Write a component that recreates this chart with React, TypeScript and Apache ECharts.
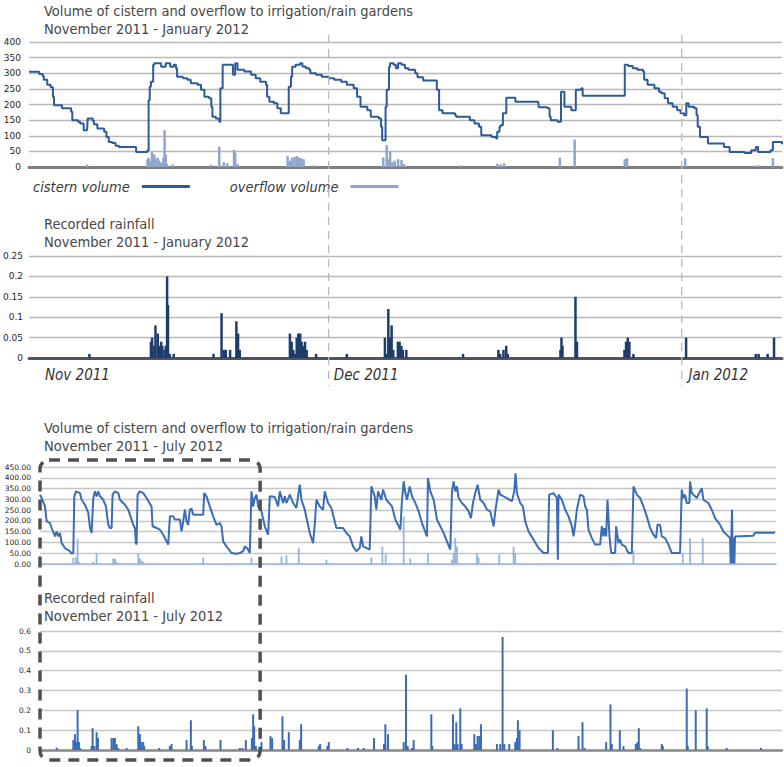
import { useEffect, useRef } from 'react';
import * as echarts from 'echarts';

// x values are days counted from 1 Nov 2011 (Dec 1 = 30, Jan 1 = 61)
const DAY_DEC = 30;
const DAY_JAN = 61;

// Nov 2011 - Jan 2012
const cisternNovJan = [
  [3.7, 305], [4.4, 305], [4.6, 298], [4.9, 291], [5.0, 279], [5.3, 263], [5.6, 255], [5.8, 225], [5.9, 198], [6.5, 198],
  [6.6, 188], [7.1, 188], [7.4, 177], [7.5, 150], [8.0, 145], [8.2, 139], [8.5, 118], [8.8, 118], [8.85, 155], [9.1, 155],
  [9.3, 148], [9.4, 137], [9.7, 123], [10.1, 123], [10.3, 113], [10.5, 96], [10.7, 80], [11.0, 77], [11.3, 68], [11.6, 64],
  [12.9, 64], [13.1, 48], [13.5, 48], [14.1, 54], [14.2, 214], [14.3, 257], [14.4, 273], [14.6, 327], [14.7, 332], [15.3, 321],
  [15.7, 332], [16.1, 321], [16.4, 327], [16.6, 316], [16.7, 289], [17.2, 284], [17.6, 279], [17.9, 268], [18.5, 263], [18.8, 247],
  [19.1, 225], [19.5, 220], [19.7, 193], [19.8, 161], [20.1, 155], [20.4, 145], [20.5, 252], [20.7, 327], [21.4, 327], [21.6, 295],
  [21.7, 295], [21.8, 332], [21.9, 332], [22.0, 311], [22.6, 306], [23.2, 295], [23.6, 284], [24.0, 273], [24.5, 263], [24.6, 225],
  [24.8, 209], [25.2, 204], [25.5, 188], [25.8, 172], [26.4, 172], [26.5, 257], [26.7, 289], [26.8, 321], [27.1, 327], [27.5, 332],
  [27.7, 322], [28.0, 316], [28.3, 311], [28.4, 300], [28.9, 295], [29.4, 289], [30.0, 284], [30.5, 279], [31.1, 273], [31.6, 263],
  [32.2, 252], [32.5, 225], [32.8, 193], [33.2, 193], [33.4, 182], [33.7, 161], [34.1, 161], [34.4, 155], [34.6, 129], [34.7, 86],
  [34.9, 86], [35.0, 193], [35.1, 247], [35.3, 321], [35.4, 332], [35.7, 327], [35.9, 316], [36.1, 332], [36.4, 327], [36.7, 316],
  [37.0, 311], [37.6, 300], [37.8, 287], [38.3, 277], [39.3, 277], [39.5, 247], [39.7, 182], [40.0, 172], [41.1, 166], [41.2, 161],
  [42.2, 161], [42.4, 150], [42.8, 139], [43.2, 129], [43.4, 102], [44.1, 102], [44.3, 96], [44.7, 91], [44.8, 113], [45.0, 129],
  [45.1, 134], [45.3, 172], [45.6, 222], [46.3, 222], [46.4, 209], [48.4, 209], [48.45, 191], [49.2, 188], [49.4, 161], [49.5, 150],
  [50.1, 145], [50.4, 241], [50.6, 241], [50.7, 193], [51.1, 193], [51.3, 182], [51.6, 182], [51.7, 247], [52.2, 252], [52.3, 228],
  [55.8, 228], [56.0, 327], [56.3, 323], [56.7, 316], [57.1, 311], [57.6, 306], [57.7, 279], [58.0, 263], [58.6, 252], [59.0, 241],
  [59.2, 236], [59.5, 220], [59.8, 204], [60.2, 193], [60.6, 182], [60.9, 172], [61.2, 166], [61.4, 204], [61.6, 193], [62.1, 188],
  [62.3, 166], [62.4, 129], [62.6, 96], [63.3, 75], [64.4, 75], [64.7, 64], [65.2, 48], [66.5, 45], [67.1, 54], [67.5, 64],
  [67.7, 48], [68.7, 48], [68.8, 54], [69.0, 80], [69.6, 80], [69.8, 73],
];

const overflowNovJan = [
  [8.8, 8], [14.1, 25], [14.2, 30], [14.4, 20], [14.5, 48], [14.7, 40], [14.8, 25], [15.0, 30], [15.1, 20], [15.3, 15],
  [15.5, 30], [15.6, 118], [15.7, 40], [15.8, 10], [16.3, 8], [19.7, 7], [20.4, 65], [20.8, 15], [21.1, 12], [21.7, 55],
  [21.8, 45], [22.0, 10], [26.4, 35], [26.6, 20], [26.8, 30], [27.0, 32], [27.2, 35], [27.4, 30], [27.6, 28], [27.8, 25],
  [28.7, 5], [34.8, 30], [35.1, 70], [35.2, 25], [35.4, 50], [35.6, 15], [35.8, 20], [36.1, 25], [36.4, 22], [36.6, 10],
  [41.6, 5], [44.8, 10], [45.1, 8], [45.4, 12], [50.3, 30], [51.6, 88], [56.0, 25], [56.2, 28], [61.3, 28], [67.5, 5],
  [67.8, 5], [69.0, 28],
];

const rainNovJan = [
  [9.0, 0.01], [14.4, 0.04], [14.5, 0.05], [14.7, 0.03], [14.8, 0.08], [15.0, 0.06], [15.1, 0.03], [15.3, 0.04], [15.4, 0.03], [15.6, 0.02],
  [15.7, 0.03], [15.82, 0.2], [15.9, 0.13], [16.05, 0.01], [16.4, 0.01], [19.9, 0.01], [20.6, 0.11], [20.8, 0.02], [20.97, 0.02], [21.35, 0.02],
  [21.9, 0.09], [22.05, 0.06], [22.2, 0.02], [26.6, 0.06], [26.76, 0.04], [26.9, 0.02], [27.05, 0.01], [27.2, 0.05], [27.34, 0.06], [27.5, 0.06],
  [27.63, 0.04], [27.78, 0.03], [27.93, 0.04], [28.07, 0.02], [28.9, 0.01], [31.6, 0.01], [34.94, 0.05], [35.09, 0.01], [35.24, 0.12], [35.38, 0.05],
  [35.53, 0.08], [35.67, 0.02], [36.08, 0.04], [36.23, 0.04], [36.38, 0.03], [36.52, 0.02], [36.82, 0.02], [41.8, 0.01], [44.9, 0.02], [45.06, 0.01],
  [45.35, 0.02], [45.59, 0.03], [45.73, 0.01], [50.35, 0.02], [50.44, 0.05], [50.53, 0.03], [51.67, 0.15], [51.8, 0.04], [55.97, 0.02], [56.11, 0.04],
  [56.26, 0.05], [56.4, 0.04], [56.76, 0.01], [61.38, 0.05], [67.5, 0.01], [67.75, 0.01], [68.54, 0.01], [69.1, 0.05],
];

// Nov 2011 - Jul 2012
const cisternNovJul = [
  [3.7, 322], [4.2, 306], [5.2, 267], [5.7, 198], [6.7, 190], [7.2, 167], [8.2, 128], [8.7, 151], [9.2, 128], [9.7, 144],
  [10.2, 97], [11.2, 74], [12.7, 59], [13.2, 48], [13.7, 51], [14.0, 314], [14.5, 337], [15.7, 329], [16.2, 298], [17.2, 275],
  [18.2, 237], [18.7, 167], [19.2, 144], [19.7, 306], [20.2, 337], [20.7, 314], [21.2, 337], [21.7, 314], [22.7, 298], [23.5, 267],
  [24.2, 182], [24.7, 167], [25.2, 167], [25.5, 322], [26.2, 337], [27.2, 329], [27.7, 298], [29.2, 275], [30.2, 252], [31.2, 206],
  [31.7, 182], [32.2, 167], [32.5, 97], [32.7, 90], [33.0, 322], [33.7, 337], [34.7, 329], [35.7, 306], [37.2, 267], [37.5, 175],
  [38.7, 167], [39.7, 159], [40.7, 136], [41.7, 105], [42.2, 90], [42.7, 221], [43.7, 221], [44.2, 206], [45.7, 206], [46.2, 151],
  [46.7, 198], [47.2, 252], [47.7, 198], [48.2, 182], [48.7, 252], [49.2, 257], [49.7, 229], [52.7, 229], [53.0, 329], [53.7, 314],
  [54.7, 267], [55.7, 221], [56.7, 182], [57.7, 190], [58.2, 175], [58.7, 105], [59.7, 82], [61.2, 51], [62.7, 48], [63.7, 51],
  [64.7, 59], [65.2, 82], [66.2, 67], [66.7, 51], [67.2, 337], [67.7, 267], [68.2, 306], [68.7, 322], [69.2, 267], [70.2, 244],
  [71.2, 175], [72.2, 136], [72.7, 314], [74.2, 311], [75.2, 267], [75.7, 337], [76.7, 283], [77.2, 314], [77.7, 283], [78.7, 322],
  [79.7, 283], [80.7, 260], [81.7, 368], [82.2, 298], [83.2, 252], [84.7, 144], [85.7, 97], [86.2, 182], [86.7, 298], [87.7, 267],
  [88.7, 252], [89.2, 337], [90.2, 283], [91.2, 260], [92.7, 167], [94.7, 167], [95.7, 144], [96.7, 128], [97.7, 82], [98.7, 59],
  [99.7, 74], [100.2, 128], [100.7, 82], [102.7, 67], [103.2, 360], [104.2, 314], [104.7, 252], [105.2, 337], [106.2, 298], [106.7, 345],
  [107.7, 298], [109.4, 267], [110.4, 206], [111.4, 175], [111.9, 159], [112.4, 298], [112.9, 383], [113.4, 329], [113.9, 298], [114.7, 360],
  [115.4, 314], [116.4, 283], [117.4, 244], [118.4, 190], [119.9, 128], [120.2, 398], [120.9, 337], [121.9, 298], [122.9, 206], [123.9, 175],
  [124.9, 144], [125.9, 105], [126.9, 67], [127.4, 337], [127.9, 383], [128.4, 337], [128.9, 360], [129.4, 306], [130.4, 283], [131.4, 267],
  [132.4, 244], [133.1, 213], [133.7, 283], [134.4, 329], [135.1, 368], [135.9, 298], [136.9, 283], [137.9, 252], [138.9, 244], [139.9, 175],
  [140.4, 244], [141.4, 345], [141.9, 322], [143.9, 306], [145.4, 291], [146.1, 337], [146.5, 421], [146.9, 329], [147.9, 283], [148.7, 267],
  [149.4, 198], [150.4, 151], [151.9, 113], [153.4, 74], [154.9, 51], [156.2, 51], [156.6, 322], [157.9, 329], [158.9, 306], [159.2, 20],
  [159.4, 322], [160.4, 298], [161.4, 252], [162.4, 221], [163.4, 175], [163.9, 128], [164.4, 182], [164.9, 252], [165.9, 322], [166.9, 314],
  [167.4, 267], [167.9, 252], [168.4, 159], [169.4, 120], [170.4, 90], [171.9, 90], [172.4, 175], [172.9, 128], [173.2, 167], [173.7, 128],
  [174.1, 298], [174.7, 128], [175.2, 51], [176.4, 51], [176.7, 175], [177.4, 97], [177.9, 113], [178.4, 90], [179.4, 82], [180.4, 51],
  [181.4, 51], [181.9, 360], [182.9, 322], [183.9, 306], [184.9, 267], [185.9, 221], [186.9, 167], [187.9, 136], [188.7, 120], [189.1, 182],
  [189.9, 182], [190.4, 128], [191.4, 120], [192.4, 90], [193.4, 51], [195.9, 51], [196.4, 345], [196.9, 306], [197.4, 322], [197.9, 283],
  [198.7, 283], [198.9, 383], [199.4, 329], [199.9, 322], [200.9, 306], [202.4, 352], [202.9, 298], [204.4, 283], [205.4, 252], [206.4, 213],
  [207.9, 182], [208.9, 151], [210.4, 128], [210.9, 120], [211.1, 3], [211.3, 128], [211.5, 252], [211.7, 3], [211.9, 120], [212.2, 3],
  [212.4, 128], [217.9, 131], [218.4, 145], [224.4, 145],
];

const overflowNovJul = [
  [13.7, 30], [14.5, 30], [15.0, 115], [15.5, 10], [19.7, 10], [20.7, 50], [25.7, 25], [26.2, 25], [26.7, 10], [33.2, 50],
  [33.7, 25], [34.2, 15], [34.7, 10], [52.7, 30], [67.2, 30], [76.2, 35], [77.7, 40], [81.4, 75], [89.7, 20], [103.2, 30],
  [106.5, 80], [107.5, 45], [112.9, 220], [114.9, 25], [120.2, 50], [127.4, 20], [127.9, 50], [128.4, 120], [128.9, 80], [134.9, 50],
  [135.4, 30], [141.6, 45], [145.9, 80], [146.4, 50], [158.2, 5], [181.9, 60], [196.7, 50], [198.9, 120], [202.7, 120],
];

const rainNovJul = [
  [8.7, 0.012], [13.7, 0.05], [14.2, 0.08], [14.5, 0.04], [15.0, 0.2], [15.4, 0.04], [15.7, 0.01], [19.2, 0.02], [19.5, 0.11], [20.0, 0.02],
  [20.7, 0.09], [21.1, 0.06], [25.2, 0.06], [25.7, 0.06], [26.2, 0.06], [26.7, 0.03], [27.2, 0.01], [29.7, 0.01], [33.2, 0.12], [33.7, 0.08],
  [34.2, 0.04], [34.7, 0.04], [35.0, 0.02], [39.5, 0.01], [42.7, 0.02], [43.2, 0.03], [47.7, 0.05], [49.0, 0.15], [49.3, 0.02], [52.9, 0.05],
  [53.4, 0.02], [57.9, 0.05], [63.7, 0.01], [64.5, 0.01], [65.5, 0.05], [67.3, 0.06], [67.7, 0.18], [68.0, 0.12], [68.5, 0.02], [70.2, 0.04],
  [72.9, 0.07], [73.4, 0.06], [76.5, 0.17], [77.0, 0.05], [78.4, 0.09], [81.7, 0.05], [82.1, 0.13], [87.4, 0.02], [87.8, 0.03], [90.0, 0.02],
  [90.4, 0.04], [96.0, 0.01], [99.2, 0.01], [100.9, 0.01], [104.0, 0.06], [107.0, 0.03], [107.4, 0.13], [108.2, 0.08], [112.9, 0.04], [113.6, 0.38],
  [114.1, 0.02], [115.4, 0.01], [115.9, 0.05], [121.2, 0.18], [121.5, 0.02], [127.7, 0.18], [128.2, 0.03], [128.7, 0.14], [129.1, 0.03], [129.9, 0.21],
  [130.3, 0.03], [134.1, 0.08], [134.6, 0.03], [135.1, 0.07], [135.6, 0.07], [136.1, 0.13], [140.9, 0.03], [141.9, 0.03], [142.6, 0.57], [143.1, 0.03],
  [144.6, 0.03], [146.4, 0.04], [146.9, 0.06], [147.2, 0.15], [147.7, 0.1], [157.7, 0.1], [159.1, 0.01], [165.4, 0.07], [166.6, 0.14], [167.2, 0.01],
  [173.7, 0.04], [175.0, 0.23], [175.4, 0.03], [177.8, 0.1], [178.9, 0.02], [182.6, 0.03], [183.1, 0.04], [183.5, 0.11], [183.9, 0.01], [190.4, 0.03],
  [190.7, 0.02], [197.9, 0.31], [198.2, 0.02], [200.6, 0.2], [203.9, 0.21], [204.2, 0.02], [209.9, 0.01], [220.2, 0.01],
];

const monthTicks = [5.1, 30.45, 61.6];
const monthLabels = ['Nov 2011', 'Dec 2011', 'Jan 2012'];

const titles = [
  'Volume of cistern and overflow to irrigation/rain gardens\nNovember 2011 - January 2012',
  'Recorded rainfall\nNovember 2011 - January 2012',
  'Volume of cistern and overflow to irrigation/rain gardens\nNovember 2011 - July 2012',
  'Recorded rainfall\nNovember 2011 - July 2012',
];

const TITLE_FONT = "'Liberation Sans Narrow', 'DejaVu Sans Condensed', 'Roboto Condensed', 'Liberation Sans', sans-serif";
const NUM_FONT = "'DejaVu Sans', Verdana, sans-serif";

export default function App() {
  const chartRef = useRef(null);
  useEffect(() => {
    const chart = echarts.init(chartRef.current, null, { renderer: 'svg' });

    const titleTops = [2, 215, 419, 589];
    const grids = [
      { left: 29, top: 42, width: 753, height: 125 },
      { left: 29, top: 256, width: 753, height: 102 },
      { left: 40, top: 467, width: 736, height: 97 },
      { left: 40, top: 631, width: 742, height: 119 },
    ];

    const hiddenX = (gridIndex: number, min: number, max: number, line: any) => ({
      type: 'value', gridIndex, min, max,
      axisLine: { show: true, onZero: false, lineStyle: line },
      axisTick: { show: false }, axisLabel: { show: false }, splitLine: { show: false },
    });

    const yAxisBase = (gridIndex: number, max: number, interval: number, fontSize: number, margin: number, grid: string, fmt: any) => ({
      type: 'value', gridIndex, min: 0, max, interval,
      axisLine: { show: false }, axisTick: { show: false },
      axisLabel: { fontSize, color: '#262626', fontFamily: NUM_FONT, margin, formatter: fmt },
      splitLine: { lineStyle: { color: grid, width: 1.4 } },
    });

    const option = {
      animation: false,
      backgroundColor: '#fff',
      title: titles.map((t, i) => ({
        text: t, left: 44, top: titleTops[i], padding: 0,
        textStyle: { fontSize: 14.5, lineHeight: 18, fontWeight: 'normal', color: '#474747', fontFamily: TITLE_FONT },
      })),
      legend: {
        data: ['cistern volume', 'overflow volume'],
        left: 28, top: 174, icon: 'rect', itemWidth: 48, itemHeight: 3, itemGap: 40, align: 'right',
        textStyle: { fontSize: 14.5, fontStyle: 'italic', color: '#3a3a3a', fontFamily: TITLE_FONT, padding: [0, 7, 0, 0] },
      },
      grid: grids,
      xAxis: [
        hiddenX(0, 3.7, 69.8, { color: '#7f7f7f', width: 3 }),
        {
          ...hiddenX(1, 3.7, 69.8, { color: '#4b5566', width: 3 }),
          axisLabel: {
            show: true, customValues: monthTicks, align: 'left', margin: 9,
            fontSize: 15, fontStyle: 'italic', color: '#333', fontFamily: TITLE_FONT,
            formatter: (v: number) => {
              let k = 0;
              monthTicks.forEach((m, i) => { if (Math.abs(m - v) < Math.abs(monthTicks[k] - v)) k = i; });
              return monthLabels[k];
            },
          },
        },
        hiddenX(2, 3.7, 224.7, { color: '#9db7dc', width: 1.5 }),
        hiddenX(3, 3.7, 226.5, { color: '#8a8a8a', width: 2.5 }),
      ],
      yAxis: [
        yAxisBase(0, 400, 50, 9, 8, '#b9b9b9', null),
        yAxisBase(1, 0.25, 0.05, 9, 6, '#b9b9b9', (v: number) => String(+v.toFixed(2))),
        yAxisBase(2, 450, 50, 7.5, 9, '#c6c6c6', (v: number) => v.toFixed(2)),
        yAxisBase(3, 0.6, 0.1, 7.5, 9, '#c6c6c6', (v: number) => String(+v.toFixed(1))),
      ],
      series: [
        {
          name: 'overflow volume', type: 'bar', xAxisIndex: 0, yAxisIndex: 0, barWidth: 2.5,
          itemStyle: { color: '#8ea5cc' }, data: overflowNovJan,
        },
        {
          name: 'cistern volume', type: 'line', xAxisIndex: 0, yAxisIndex: 0, showSymbol: false, step: 'end',
          itemStyle: { color: '#2d5b96' }, lineStyle: { color: '#2d5b96', width: 2 }, data: cisternNovJan,
        },
        {
          name: 'rainfall Nov-Jan', type: 'bar', xAxisIndex: 1, yAxisIndex: 1, barWidth: 2.5,
          itemStyle: { color: '#1f3d6b' }, data: rainNovJan,
        },
        {
          name: 'overflow Nov-Jul', type: 'bar', xAxisIndex: 2, yAxisIndex: 2, barWidth: 1.8,
          itemStyle: { color: '#94b4de' }, data: overflowNovJul,
        },
        {
          name: 'cistern Nov-Jul', type: 'line', xAxisIndex: 2, yAxisIndex: 2, showSymbol: false,
          itemStyle: { color: '#3a6db3' }, lineStyle: { color: '#3a6db3', width: 2 }, data: cisternNovJul,
        },
        {
          name: 'rainfall Nov-Jul', type: 'bar', xAxisIndex: 3, yAxisIndex: 3, barWidth: 2,
          itemStyle: { color: '#3a6cb4' }, data: rainNovJul,
        },
      ],
    };
    chart.setOption(option);

    // month boundaries and the Nov-Jan window, placed through the axes' scales
    const xDec = chart.convertToPixel({ xAxisIndex: 0 }, DAY_DEC) as number;
    const xJan = chart.convertToPixel({ xAxisIndex: 0 }, DAY_JAN) as number;
    const boxL = chart.convertToPixel({ xAxisIndex: 2 }, 3.7) as number;
    const boxR = chart.convertToPixel({ xAxisIndex: 2 }, 69.8) as number;
    const dashed = { stroke: '#b8b8b8', lineWidth: 1.3, lineDash: [8, 6] };
    chart.setOption({
      graphic: [
        { type: 'line', shape: { x1: xDec, y1: 35, x2: xDec, y2: 386 }, style: dashed, z: 10 },
        { type: 'line', shape: { x1: xJan, y1: 35, x2: xJan, y2: 386 }, style: dashed, z: 10 },
        {
          type: 'rect', z: 20,
          shape: { x: boxL, y: 460, width: boxR - boxL, height: 300, r: 9 },
          style: { fill: 'none', stroke: '#505050', lineWidth: 3.5, lineDash: [11, 8] },
        },
      ],
    });

    return () => {
      chart.dispose();
    };
  }, []);

  return <div ref={chartRef} style={{ position: 'absolute', left: 0, top: 0, width: '784px', height: '767px' }} />;
}
